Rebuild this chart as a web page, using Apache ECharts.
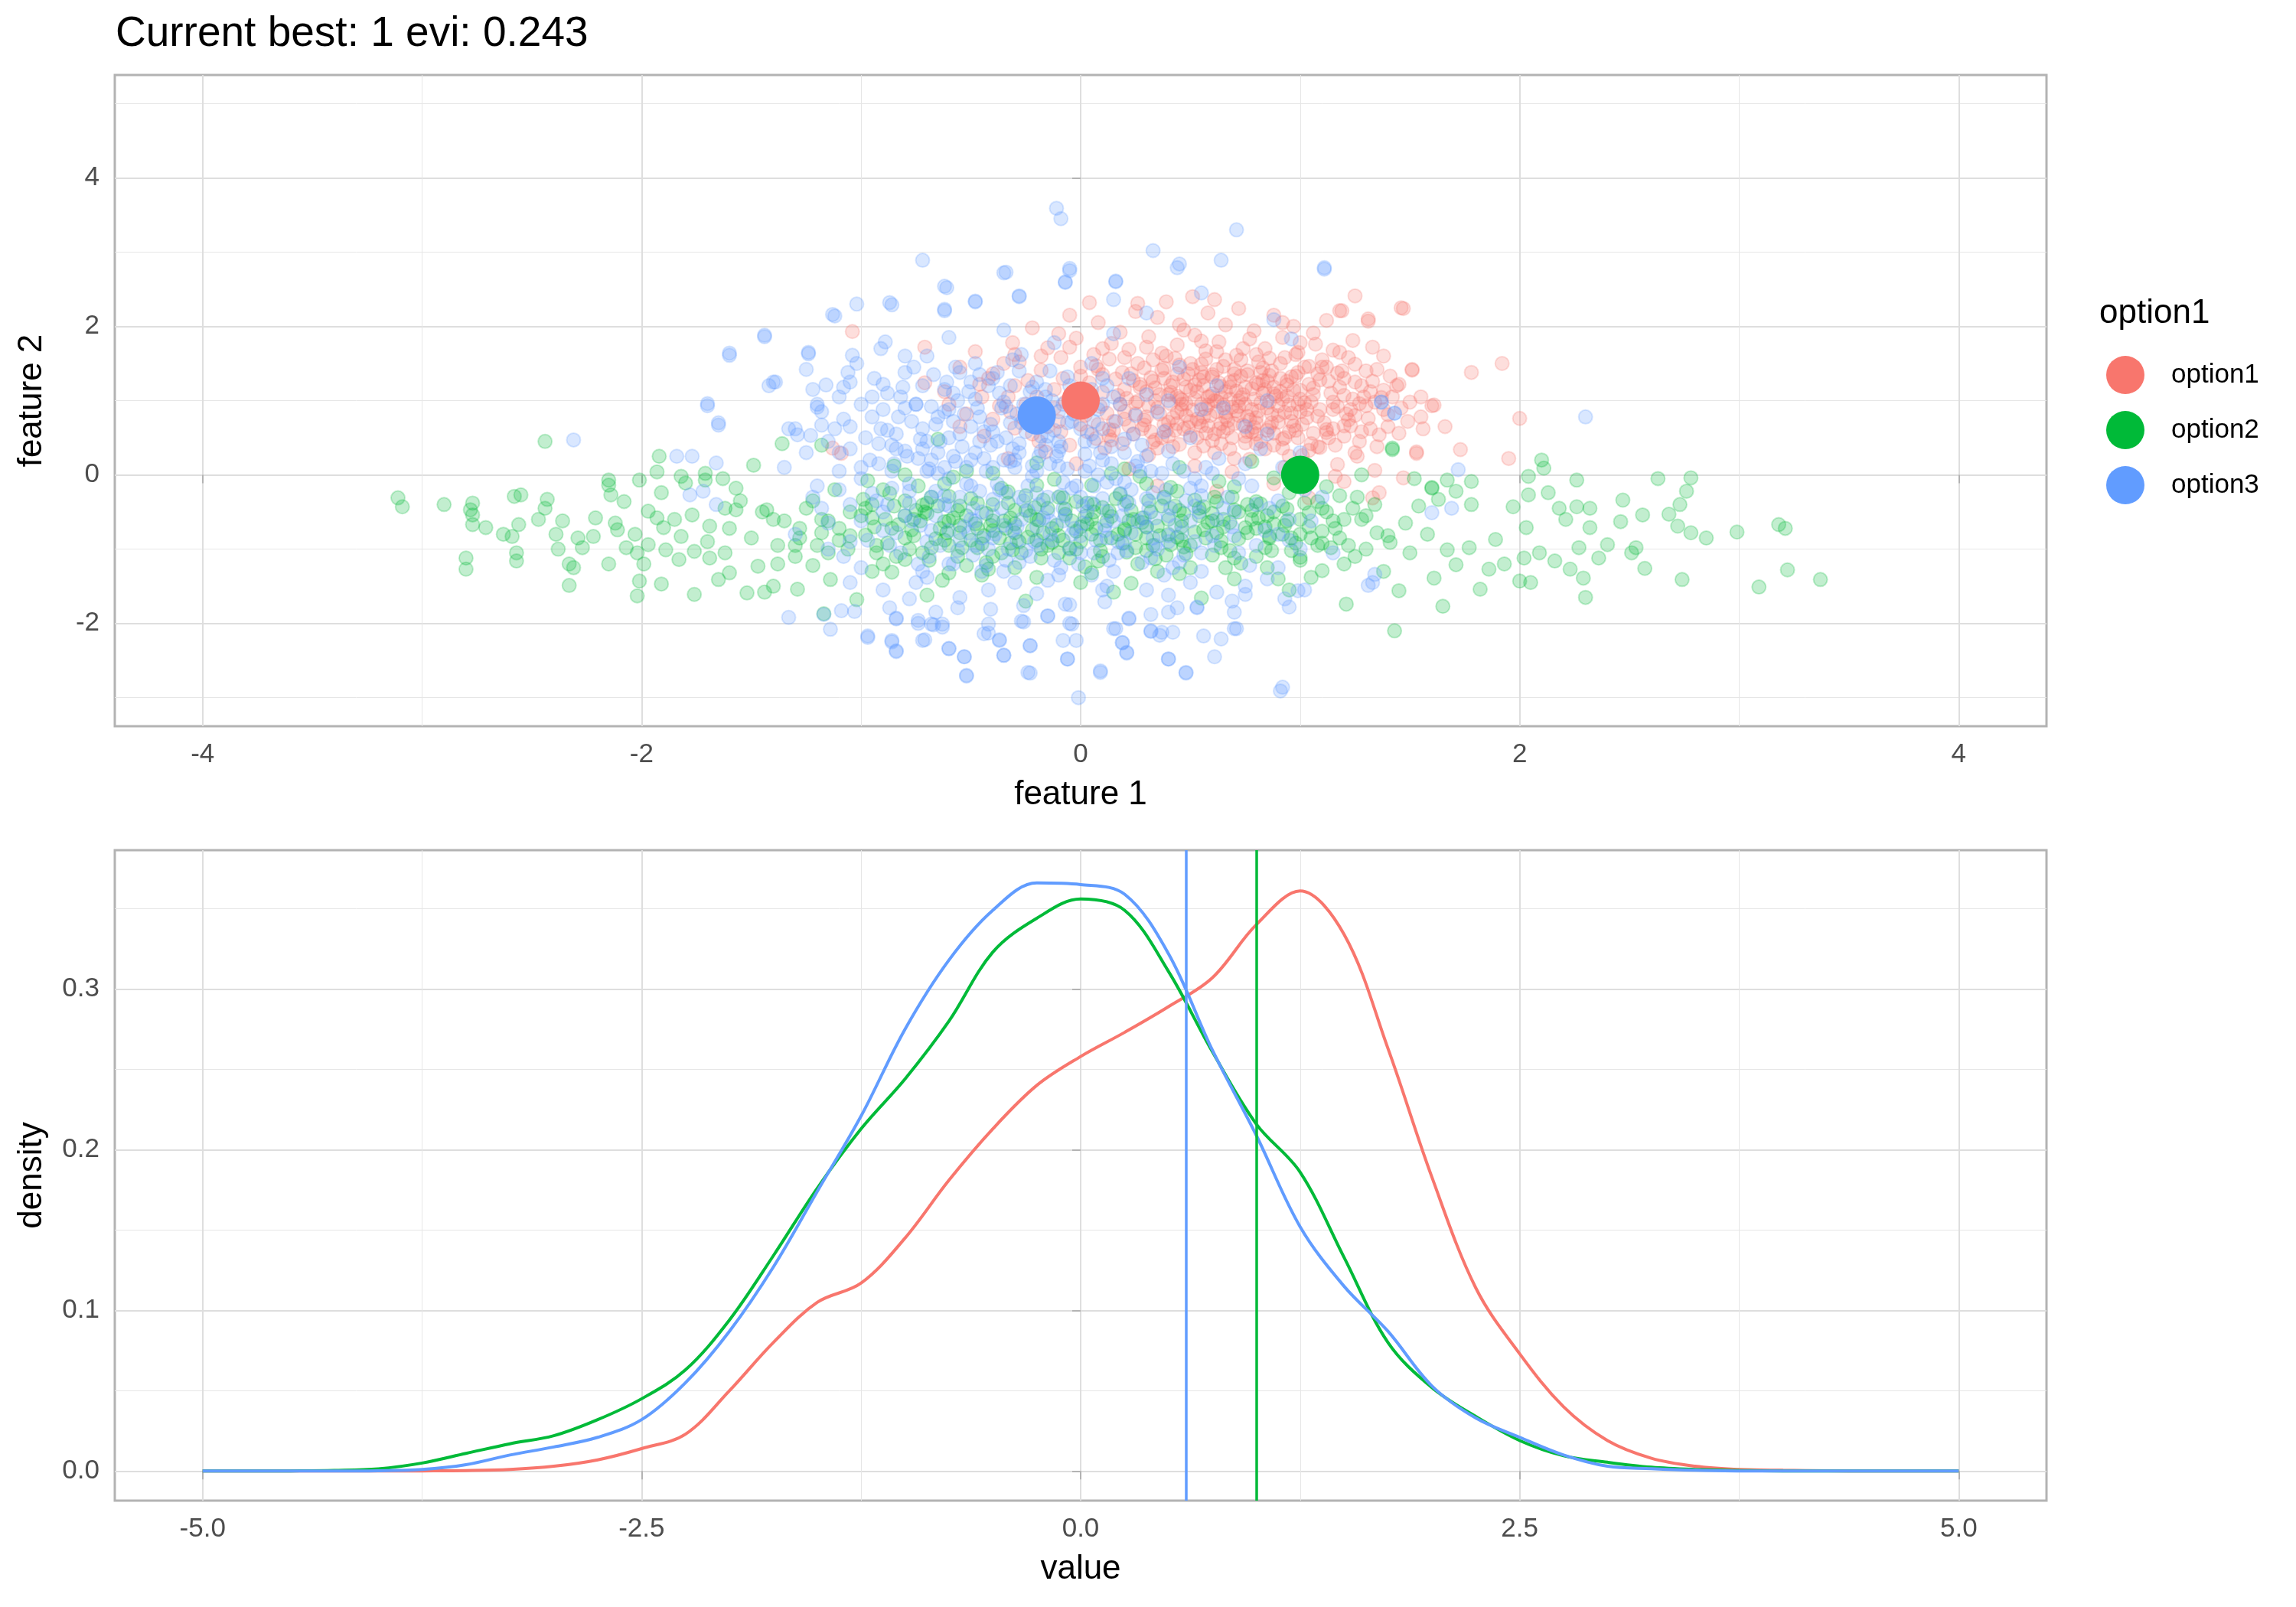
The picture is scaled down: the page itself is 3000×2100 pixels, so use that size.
<!DOCTYPE html>
<html>
<head>
<meta charset="utf-8">
<title>Current best</title>
<script src="https://cdn.jsdelivr.net/npm/echarts@6/dist/echarts.min.js"></script>
<style>
  html, body { margin: 0; padding: 0; background: #fff; }
  #main { width: 3000px; height: 2100px; }
</style>
</head>
<body>
<div id="main"></div>
<script>
// points: [feature 1, feature 2]
var pts1 = [
  [1.92,1.50],[2.00,0.76],[1.78,1.38],[1.51,1.42],[1.46,2.25],[1.25,2.41],[1.95,0.22],[1.73,0.34],[1.53,0.31],
  [1.55,1.05],[1.61,0.94],[1.66,0.65],[1.47,-0.04],[1.31,2.10],[1.18,2.21],[0.61,2.36],[0.39,2.33],[0.26,2.31],
  [0.04,2.32],[1.35,1.42],[1.38,1.14],[1.32,0.62],[1.45,0.56],[-1.04,1.93],[-0.71,1.72],[-0.71,1.24],[-1.09,0.29],
  [-1.13,0.36],[0.51,2.40],[1.47,2.24],[1.19,2.21],[1.60,0.93],[1.56,0.62],[1.53,0.29],[1.51,1.41],[1.31,2.07],
  [-0.22,1.98],[0.08,2.05],[0.18,1.92],[0.35,2.12],[0.47,1.95],[0.58,2.18],[0.66,2.02],[0.79,1.94],[0.88,2.15],
  [0.97,2.0],[1.06,1.91],[1.12,2.08],[0.25,2.2],[-0.05,2.15],[0.72,2.24],
  [-0.48,1.66],[-0.31,1.78],[-0.15,1.71],[-0.02,1.84],[0.06,1.62],[0.14,1.77],[0.22,1.69],[0.31,1.86],[0.37,1.64],
  [0.44,1.75],[0.52,1.88],[0.57,1.67],[0.63,1.79],[0.71,1.61],[0.77,1.83],[0.84,1.7],[0.92,1.85],[0.99,1.65],
  [1.07,1.76],[1.15,1.68],[1.24,1.81],[1.33,1.72],
  [-0.55,1.45],[-0.4,1.36],[-0.28,1.52],[-0.18,1.41],[-0.09,1.58],[0.0,1.33],[0.07,1.47],[0.13,1.56],[0.19,1.38],
  [0.26,1.5],[0.32,1.31],[0.38,1.44],[0.43,1.57],[0.49,1.36],[0.55,1.49],[0.6,1.32],[0.66,1.55],[0.7,1.42],
  [0.76,1.35],[0.81,1.52],[0.87,1.4],[0.93,1.58],[0.98,1.33],[1.04,1.46],[1.1,1.55],[1.17,1.37],[1.25,1.49],[1.41,1.33],
  [-0.62,1.12],[-0.46,1.22],[-0.33,1.05],[-0.24,1.27],[-0.12,1.15],[-0.04,1.02],[0.04,1.24],[0.1,1.11],[0.16,1.29],
  [0.21,1.03],[0.27,1.18],[0.33,1.26],[0.36,1.08],[0.41,1.2],[0.46,1.01],[0.5,1.14],[0.54,1.28],[0.59,1.06],
  [0.64,1.19],[0.68,1.25],[0.73,1.04],[0.78,1.16],[0.83,1.27],[0.88,1.09],[0.94,1.21],[1.0,1.02],[1.06,1.17],
  [1.13,1.26],[1.2,1.07],[1.28,1.2],[1.37,1.04],[1.45,1.22],
  [-0.52,0.82],[-0.37,0.93],[-0.26,0.76],[-0.16,0.88],[-0.07,0.98],[0.02,0.8],[0.09,0.92],[0.15,0.72],[0.2,0.85],
  [0.25,0.97],[0.3,0.78],[0.35,0.9],[0.4,0.71],[0.44,0.84],[0.48,0.96],[0.53,0.75],[0.57,0.89],[0.62,0.99],
  [0.67,0.73],[0.71,0.86],[0.75,0.95],[0.8,0.77],[0.85,0.9],[0.9,0.71],[0.96,0.83],[1.02,0.97],[1.08,0.79],
  [1.15,0.88],[1.22,0.74],[1.3,0.93],[1.4,0.81],[1.49,0.72],
  [-0.44,0.52],[-0.3,0.63],[-0.19,0.45],[-0.09,0.58],[0.0,0.68],[0.07,0.49],[0.13,0.61],[0.19,0.42],[0.24,0.55],
  [0.29,0.67],[0.34,0.47],[0.39,0.6],[0.45,0.41],[0.5,0.53],[0.55,0.66],[0.6,0.46],[0.65,0.58],[0.7,0.69],
  [0.75,0.43],[0.8,0.55],[0.86,0.64],[0.92,0.48],[0.98,0.6],[1.05,0.42],[1.12,0.57],[1.2,0.66],[1.27,0.45],[1.36,0.54],
  [-0.33,0.22],[-0.16,0.31],[-0.02,0.15],[0.11,0.36],[0.22,0.08],[0.31,0.27],[0.42,0.38],[0.52,0.12],[0.61,0.3],
  [0.69,0.04],[0.77,0.21],[0.84,0.35],[0.93,0.1],[1.01,0.26],[1.09,0.37],[1.17,0.14],[1.25,0.3],[1.34,0.06],
  [0.35,-0.15],[0.62,-0.22],[0.88,-0.12],[1.04,-0.31],[1.16,-0.02],[1.2,-0.09],[1.33,-0.31],[1.36,-0.24],[1.26,0.25],
  [0.03,0.58],[0.12,0.83],[0.17,1.07],[0.23,1.36],[0.28,0.62],[0.31,0.93],[0.34,1.17],[0.37,1.41],[0.4,0.52],[0.42,0.77],
  [0.45,1.03],[0.47,1.29],[0.49,0.64],[0.51,0.87],[0.53,1.12],[0.55,1.38],[0.57,0.56],[0.59,0.8],[0.61,1.0],[0.63,1.24],
  [0.65,1.46],[0.67,0.63],[0.69,0.91],[0.71,1.13],[0.73,1.33],[0.75,0.52],[0.77,0.74],[0.79,1.02],[0.81,1.22],[0.83,1.44],
  [0.85,0.6],[0.87,0.82],[0.89,1.06],[0.91,1.3],[0.93,0.5],[0.95,0.94],[0.97,1.14],[0.99,1.38],[1.01,0.68],[1.03,0.88],
  [1.06,1.08],[1.09,1.28],[1.12,0.61],[1.15,0.98],[1.18,1.18],[1.21,0.82],[1.24,1.02],[1.28,0.58],[1.32,1.12],[1.38,0.88],
  [0.08,1.42],[0.14,0.47],[0.2,1.58],[0.26,0.99],[0.33,0.44],[0.39,1.6],[0.44,0.69],[0.5,1.5],[0.56,0.39],[0.62,1.66],
  [0.68,0.35],[0.74,1.7],[0.8,0.42],[0.86,1.57],[0.92,0.36],[0.98,1.62],[1.04,0.33],[1.1,1.45],[1.16,0.4],[1.22,1.58],
  [0.36,0.82],[0.46,0.95],[0.54,0.71],[0.6,1.09],[0.66,0.84],[0.72,1.0],[0.78,0.88],[0.84,1.15],[0.9,0.93],[0.96,0.72],
  [0.41,1.11],[0.52,1.21],[0.58,0.94],[0.64,0.69],[0.7,1.27],[0.76,0.79],[0.82,0.97],[0.88,1.18],[0.94,1.06],[1.0,0.85],
  [-0.1,0.72],[-0.2,1.05],[-0.3,1.2],[-0.4,0.75],[0.0,1.45],[-0.05,0.4],[1.3,1.4],[1.42,1.05],[1.46,0.9],[1.35,0.38],
  [0.22,0.66],[0.27,1.22],[0.32,0.58],[0.34,1.0],[0.38,1.3],[0.43,0.6],[0.46,0.88],[0.48,1.18],[0.51,1.42],[0.53,0.5],
  [0.56,0.78],[0.58,1.05],[0.6,1.35],[0.63,0.62],[0.65,0.94],[0.66,1.12],[0.69,0.5],[0.72,0.8],[0.74,1.08],[0.76,1.4],
  [0.79,0.64],[0.81,0.86],[0.83,1.1],[0.86,1.34],[0.88,0.56],[0.9,0.8],[0.92,1.02],[0.94,1.26],[0.97,0.66],[1.0,1.14],
  [1.03,0.77],[1.05,0.98],[1.08,1.36],[1.11,0.7],[1.14,1.1],[1.17,0.92],[1.2,1.3],[1.23,0.66],[1.27,0.96],[1.31,0.76],
  [0.25,0.82],[0.29,1.44],[0.41,0.96],[0.45,1.48],[0.57,1.56],[0.64,0.42],[0.73,1.55],[0.82,0.45],[0.91,1.5],[0.99,0.5],
  [0.05,0.95],[0.1,1.35],[0.15,0.6],[0.2,1.15],[-0.08,1.3],[-0.15,0.65],[-0.25,0.95],[-0.35,1.5],[-0.45,1.05],[-0.55,0.65],
  [0.62,0.85],[0.68,1.02],[0.74,0.67],[0.8,1.24],[0.86,0.98],[0.5,0.72],[0.56,1.2],[0.44,1.06],[0.38,0.68],[0.96,1.32],
  [1.12,1.45],[1.25,1.25],[1.34,0.98],[1.4,0.65],[1.44,1.2],[1.5,0.98],[1.55,0.78],[1.2,0.52],[1.08,0.38],[0.95,0.25],
  [0.3,1.72],[0.55,1.8],[0.8,1.62],[1.0,1.78],[1.18,1.65],[0.1,1.7],[-0.1,1.9],[0.45,2.02],[0.92,2.05],[1.38,1.6],
  [0.13,0.52],[0.18,0.95],[0.24,1.27],[0.29,0.74],[0.33,1.55],[0.37,0.5],[0.42,1.25],[0.47,0.62],[0.52,1.02],[0.56,1.32],
  [0.61,0.55],[0.66,0.78],[0.7,1.36],[0.75,1.18],[0.78,0.58],[0.82,1.38],[0.87,0.7],[0.91,1.12],[0.95,0.58],[0.99,0.95],
  [1.04,1.22],[1.09,0.88],[1.13,0.5],[1.19,1.4],[1.23,0.88],[1.29,1.05],[0.58,0.66],[0.64,1.04],[0.72,0.92],[0.8,0.7],
  [0.48,0.8],[0.4,1.08],[0.3,1.12],[0.55,0.95],[0.68,1.18],[0.85,1.26],[0.93,0.84],[1.02,1.45],[1.15,0.62],[0.2,0.75],
  [0.76,0.58],[0.62,1.42],[0.44,1.36],[0.88,0.4],[1.06,0.56],[0.35,0.36],[0.52,0.3],[0.7,0.22],[1.25,0.8],[1.33,1.26],
  [-0.12,0.9],[-0.22,0.55],[-0.32,0.85],[-0.42,1.3],[-0.18,1.6],[0.02,1.15],[0.08,0.68],[-0.05,1.72],[-0.3,1.62],[-0.6,0.95]
];
var pts2 = [
  [-3.11,-0.31],[-3.09,-0.43],[-2.90,-0.40],[-2.78,-0.47],[-2.77,-0.38],[-2.77,-0.54],[-2.77,-0.67],[-2.71,-0.71],
  [-2.80,-1.12],[-2.80,-1.27],[-2.63,-0.80],[-2.59,-0.83],[-2.58,-0.29],[-2.55,-0.27],[-2.56,-0.67],[-2.57,-1.05],
  [-2.57,-1.16],[-2.44,0.45],[-2.43,-0.33],[-2.44,-0.45],[-2.47,-0.60],[-2.39,-0.80],[-2.38,-1.00],[-2.36,-0.62],
  [-2.33,-1.20],[-2.31,-1.25],[-2.33,-1.49],[-2.29,-0.85],[-2.27,-0.98],[-2.22,-0.83],[-2.21,-0.58],[-2.15,-0.07],
  [-2.15,-0.14],[-2.14,-0.27],[-2.15,-1.20],[-2.12,-0.65],[-2.11,-0.74],[-2.08,-0.36],[-2.07,-0.98],[-2.02,-1.63],
  [-2.01,-0.07],[-2.01,-1.43],[-2.02,-1.05],[-2.03,-0.80],[-1.99,-1.20],[-1.97,-0.94],[-1.97,-0.49],[-1.93,-0.58],
  [-1.93,0.04],[-1.92,0.25],[-1.91,-0.24],[-1.91,-1.47],[-1.90,-0.71],[-1.89,-1.01],[-1.83,-1.14],[-1.82,-0.02],
  [-1.80,-0.11],[-1.82,-0.83],[-1.77,-0.54],[-1.76,-1.61],[-1.76,-1.03],[-1.71,0.02],[-1.71,-0.07],[-1.69,-0.69],
  [-1.69,-1.12],[-1.65,-1.41],[-1.63,-0.05],[-1.60,-1.32],[-1.57,-0.18],[-1.57,-0.47],[-1.52,-1.59],[-1.49,0.13],
  [-1.47,-1.23],[-1.43,-0.47],[-1.44,-1.58],[-1.40,-1.50],[-1.36,0.42],[-1.29,-1.54],[-1.18,0.40],[-1.17,-1.87],
  [-1.02,-1.68],[-1.14,-1.41],[-0.65,0.48],[1.42,0.34],[1.60,-0.17],
  [-1.35,-0.62],[-1.28,-0.85],[-1.22,-0.35],[-1.15,-1.05],[-1.1,-0.72],[-1.05,-0.5],[-1.3,-1.1],[-1.2,-0.95],
  [3.37,-1.41],[3.22,-1.28],[3.09,-1.51],[3.18,-0.67],[3.21,-0.72],[2.99,-0.77],[2.85,-0.85],[2.78,-0.04],
  [2.76,-0.22],[2.73,-0.40],[2.63,-0.05],[2.68,-0.53],[2.72,-0.69],[2.78,-0.78],[2.74,-1.41],[2.56,-0.54],
  [2.57,-1.26],[2.51,-1.05],[2.53,-0.98],[2.47,-0.34],[2.46,-0.63],[2.40,-0.94],[2.36,-1.12],[2.32,-0.45],
  [2.32,-0.71],[2.26,-0.07],[2.26,-0.43],[2.27,-0.98],[2.29,-1.39],[2.30,-1.65],[2.23,-1.27],[2.16,-1.16],
  [2.21,-0.60],[2.18,-0.45],[2.13,-0.24],[2.11,0.09],[2.10,0.20],[2.04,-0.02],[2.04,-0.27],[2.09,-1.05],
  [2.05,-1.45],[2.00,-1.43],[2.02,-1.12],[1.97,-0.43],[1.93,-1.20],[2.03,-0.71],[1.89,-0.87],[1.86,-1.27],
  [1.82,-1.54],[1.78,-0.09],[1.78,-0.40],[1.77,-0.98],[1.71,-0.22],[1.71,-1.21],[1.65,-1.77],[1.67,-0.07],
  [1.63,-0.33],[1.60,-0.18],[1.67,-1.01],[1.61,-1.39],[1.52,-0.05],[1.54,-0.42],[1.45,-1.56],[1.43,-2.10],
  [1.21,-1.74],[1.41,-0.91],[1.28,0.0],[1.42,0.36],
  [1.3,-0.55],[1.35,-0.78],[1.25,-1.1],[1.48,-0.65],[1.5,-1.05],[1.58,-0.8],[1.38,-1.3],[1.26,-0.3],
  [-0.85,0.12],[-0.52,0.05],[-0.2,0.16],[0.14,0.02],[0.45,0.1],[0.78,0.18],[1.05,0.07],
  [-0.97,-0.08],[-0.74,-0.15],[-0.58,-0.03],[-0.36,-0.18],[-0.12,-0.06],[0.05,-0.14],[0.27,-0.02],[0.41,-0.17],
  [0.63,-0.09],[0.88,-0.04],[1.12,-0.16],
  [-0.99,-0.33],[-0.87,-0.25],[-0.72,-0.41],[-0.6,-0.29],[-0.47,-0.38],[-0.33,-0.23],[-0.21,-0.44],[-0.08,-0.31],
  [0.06,-0.4],[0.18,-0.26],[0.31,-0.35],[0.44,-0.22],[0.56,-0.43],[0.69,-0.3],[0.82,-0.39],[0.95,-0.24],[1.08,-0.36],[1.18,-0.28],
  [-0.95,-0.58],[-0.83,-0.67],[-0.71,-0.5],[-0.62,-0.63],[-0.52,-0.55],[-0.41,-0.68],[-0.3,-0.48],[-0.19,-0.61],
  [-0.07,-0.53],[0.03,-0.66],[0.13,-0.49],[0.24,-0.6],[0.35,-0.69],[0.47,-0.52],[0.58,-0.64],[0.7,-0.47],
  [0.81,-0.58],[0.93,-0.68],[1.04,-0.51],[1.15,-0.62],
  [-0.98,-0.81],[-0.88,-0.92],[-0.77,-0.74],[-0.66,-0.86],[-0.55,-0.78],[-0.45,-0.93],[-0.34,-0.72],[-0.24,-0.84],
  [-0.13,-0.91],[-0.02,-0.76],[0.09,-0.88],[0.2,-0.73],[0.3,-0.85],[0.41,-0.94],[0.52,-0.77],[0.64,-0.89],
  [0.75,-0.71],[0.86,-0.83],[0.98,-0.92],[1.1,-0.76],
  [-0.93,-1.05],[-0.8,-1.14],[-0.68,-0.98],[-0.56,-1.1],[-0.43,-1.18],[-0.31,-1.01],[-0.18,-1.12],[-0.05,-0.99],
  [0.08,-1.16],[0.21,-1.04],[0.34,-1.13],[0.47,-0.97],[0.6,-1.08],[0.73,-1.19],[0.87,-1.02],[1.0,-1.11],[1.14,-0.98],
  [-0.86,-1.31],[-0.63,-1.42],[-0.42,-1.27],[-0.2,-1.38],[0.02,-1.24],[0.23,-1.46],[0.45,-1.33],[0.66,-1.25],
  [0.9,-1.4],[1.1,-1.29],
  [-0.7,-1.62],[-0.25,-1.7],[0.15,-1.58],[0.55,-1.66],[0.95,-1.55],
  [-1.25,-0.45],[-1.18,-0.78],[-1.12,-0.2],[-1.06,-1.0],[-1.0,-0.55],[-0.94,-0.7],[-0.9,-1.2],[-0.85,-0.42],[-0.8,-0.85],[-0.76,-0.6],
  [-0.72,-1.05],[-0.68,-0.3],[-0.64,-0.72],[-0.6,-0.95],[-0.56,-0.48],[-0.52,-1.22],[-0.48,-0.66],[-0.44,-0.82],[-0.4,-0.4],[-0.36,-1.05],
  [-0.32,-0.58],[-0.28,-0.9],[-0.25,-0.28],[-0.22,-0.74],[-0.18,-1.0],[-0.15,-0.45],[-0.11,-0.68],[-0.08,-0.88],[-0.05,-1.12],[-0.02,-0.36],
  [0.02,-0.56],[0.05,-0.8],[0.09,-1.02],[0.12,-0.62],[0.16,-0.32],[0.19,-0.92],[0.23,-0.48],[0.26,-1.2],[0.3,-0.7],[0.33,-0.95],
  [0.37,-0.42],[0.4,-0.6],[0.44,-0.84],[0.48,-1.06],[0.52,-0.34],[0.56,-0.74],[0.6,-0.52],[0.64,-0.98],[0.68,-0.64],[0.72,-0.86],
  [0.76,-0.4],[0.8,-1.1],[0.84,-0.7],[0.88,-0.5],[0.92,-0.8],[0.96,-1.02],[1.0,-0.6],[1.05,-0.85],[1.1,-0.45],[1.16,-0.72],
  [1.22,-0.95],[1.28,-0.6],[1.34,-0.4],[1.4,-0.82],[-1.3,-0.95],[-1.22,-1.22],[-1.4,-0.6],[-1.5,-0.85],[-1.55,-0.35],[-1.62,-1.05],
  [-0.7,-0.52],[-0.5,-0.88],[-0.3,-0.66],[-0.1,-0.82],[0.1,-0.44],[0.28,-0.58],[0.46,-0.7],[0.62,-0.36],[0.78,-0.6],[0.94,-0.46],
  [-0.62,-0.12],[-0.2,-0.14],[0.3,-0.12],[0.7,-0.16],[-0.45,-1.35],[0.05,-1.32],[0.5,-1.25],[0.85,-1.25],[-0.9,-0.2],[1.2,-1.2],
  [-0.98,-0.45],[-0.93,-0.95],[-0.89,-0.6],[-0.84,-1.1],[-0.8,-0.35],[-0.76,-0.82],[-0.73,-0.62],[-0.69,-1.15],[-0.65,-0.42],[-0.61,-0.78],
  [-0.58,-0.58],[-0.54,-0.98],[-0.5,-0.32],[-0.47,-0.72],[-0.43,-0.52],[-0.4,-1.1],[-0.37,-0.85],[-0.33,-0.38],[-0.3,-0.78],[-0.27,-1.05],
  [-0.23,-0.55],[-0.2,-0.88],[-0.17,-0.34],[-0.13,-0.72],[-0.1,-1.05],[-0.07,-0.46],[-0.04,-0.62],[0.0,-0.9],[0.03,-0.38],[0.07,-0.72],
  [0.1,-1.1],[0.14,-0.56],[0.17,-0.8],[0.21,-0.36],[0.25,-0.98],[0.28,-0.64],[0.32,-0.5],[0.36,-0.82],[0.39,-1.08],[0.43,-0.42],
  [0.46,-0.62],[0.5,-0.95],[0.54,-0.55],[0.57,-0.85],[0.61,-0.3],[0.65,-0.7],[0.68,-1.02],[0.72,-0.5],[0.76,-0.78],[0.8,-0.36],
  [0.84,-0.98],[0.88,-0.66],[0.92,-0.42],[0.96,-0.85],[1.0,-1.15],[1.04,-0.7],[1.08,-0.95],[1.12,-0.5],[1.18,-0.85],[1.24,-0.45],
  [-1.1,-0.88],[-1.18,-0.6],[-1.28,-0.72],[-1.38,-0.95],[-1.45,-0.5],[-1.6,-0.72],[-1.7,-0.9],[-1.85,-0.6],[-1.62,-0.45],[-1.38,-1.2],
  [-0.95,-1.3],[-0.6,-1.32],[-0.3,-1.25],[0.0,-1.45],[0.35,-1.3],[0.7,-1.4],[1.05,-1.38],[-0.8,0.0],[-0.4,0.02],[0.2,0.08],
  [-0.35,-0.62],[-0.15,-0.95],[0.05,-0.6],[0.25,-0.8],[0.45,-0.48],[0.65,-0.6],[-0.55,-0.68],[-0.75,-0.48],[0.85,-0.55],[1.3,-1.0],
  [-1.15,-0.62],[-1.05,-0.82],[-0.95,-0.4],[-0.86,-0.72],[-0.78,-1.0],[-0.7,-0.38],[-0.62,-0.88],[-0.55,-0.42],[-0.47,-0.98],[-0.4,-0.62],
  [-0.32,-0.92],[-0.25,-0.48],[-0.17,-0.78],[-0.1,-0.3],[-0.02,-1.0],[0.06,-0.5],[0.14,-0.85],[0.22,-0.62],[0.3,-1.02],[0.38,-0.3],
  [0.46,-0.88],[0.54,-0.45],[0.62,-0.78],[0.7,-1.12],[0.78,-0.48],[0.86,-0.85],[0.94,-0.62],[1.02,-0.38],[1.1,-0.92],[1.2,-0.6],
  [-0.8,-0.55],[-0.6,-0.62],[-0.4,-0.75],[-0.2,-0.6],[0.0,-0.7],[0.2,-0.75],[0.4,-0.8],[0.6,-0.62],[0.8,-0.72],[1.0,-0.8]
];
var pts3 = [
  [-2.31,0.47],[-1.70,0.96],[-1.65,0.70],[-1.60,1.64],[-1.44,1.88],[-1.42,1.20],[-1.39,1.25],[-1.24,1.65],
  [-1.13,2.16],[-1.02,2.30],[-0.87,2.32],[-0.62,2.54],[-0.62,2.23],[-0.48,2.34],[-0.35,2.72],[-0.28,2.41],
  [-0.07,2.59],[-0.05,2.75],[-1.16,1.21],[-1.20,0.91],[-1.33,0.62],[-1.29,0.54],[-1.23,0.53],[-1.18,0.67],
  [-1.08,1.18],[-1.06,1.38],[-1.04,1.61],[-0.91,1.70],[-0.89,1.79],[-1.84,0.25],[-1.77,0.25],[-1.66,0.16],
  [-1.78,-0.27],[-1.72,-0.22],[-1.66,-0.40],
  [-1.33,-1.92],[-1.14,-2.08],[-1.09,-1.83],[-0.97,-2.17],[-0.86,-2.23],[-0.84,-2.37],[-0.84,-1.94],[-0.72,-2.23],
  [-0.74,-1.96],[-0.68,-2.01],[-0.63,-2.01],[-0.60,-2.34],[-0.53,-2.45],[-0.52,-2.70],[-0.42,-2.01],[-0.44,-2.14],
  [-0.37,-2.23],[-0.35,-2.43],[-0.27,-1.97],[-0.26,-1.76],[-0.24,-2.66],[-0.23,-2.30],[-0.15,-1.90],[-0.08,-2.23],
  [-0.06,-2.48],[-0.04,-2.01],[-0.02,-2.23],[0.09,-2.64],[-0.87,-1.79],[-0.78,-1.67],[-0.66,-1.85],
  [2.30,0.78],[0.16,2.61],[1.11,2.77],[0.44,2.79],[0.92,-2.86],[0.48,-2.66],[0.40,-2.48],[0.61,-2.45],
  [0.21,-2.39],[0.19,-2.26],[0.56,-2.17],[0.37,-2.12],[0.42,-2.12],[0.71,-2.07],[0.16,-2.07],[0.32,-2.11],
  [0.22,-1.94],[0.40,-1.85],[0.53,-1.78],[0.69,-1.70],[0.75,-1.61],[0.95,-1.78],[0.99,-1.56],[1.33,-1.45],
  [1.31,-1.49],[1.60,-0.51],[1.69,-0.45],[1.72,0.07],[1.43,0.83],[1.37,0.98],
  [-0.11,3.59],[-0.09,3.45],[0.71,3.30],[0.33,3.02],[0.45,2.84],[0.64,2.89],[1.11,2.79],[-0.05,2.78],
  [-0.07,2.60],[0.16,2.60],[-0.34,2.73],[-0.72,2.89],[-0.61,2.52],[-0.48,2.33],[-0.28,2.40],[-0.62,2.21],
  [-0.86,2.29],[-1.12,2.14],[-1.44,1.86],[-1.60,1.61],[-1.24,1.63],[-1.40,1.25],[-1.70,0.93],[-1.65,0.67],
  [0.55,2.45],[0.15,2.36],[0.30,2.18],[0.88,2.09],[0.96,1.83],[1.37,0.98],[1.43,0.83],
  [-0.01,-3.0],[0.91,-2.91],[-0.52,-2.71],[-0.23,-2.67],[0.09,-2.66],[0.48,-2.67],[-0.06,-2.48],[-0.53,-2.45],
  [-0.35,-2.43],[-0.23,-2.30],[-0.60,-2.34],[-0.84,-2.38],[-0.86,-2.25],[-0.97,-2.19],[-0.71,-2.22],[-0.37,-2.22],
  [0.19,-2.26],[0.21,-2.40],[0.40,-2.48],[0.64,-2.21],[0.70,-2.07],[0.32,-2.10],[0.36,-2.16],[0.15,-2.07],
  [-0.05,-2.0],[-0.42,-2.13],[-0.63,-2.05],[-0.67,-2.02],[-0.74,-2.0],[-0.84,-1.93],[-1.03,-1.84],[-1.17,-1.88],
  [-0.56,-1.79],[-0.41,-1.81],[-0.26,-1.98],[-0.15,-1.90],[-0.07,-1.74],[0.11,-1.71],[0.22,-1.93],[0.32,-1.88],
  [0.44,-1.79],[0.53,-1.79],[0.93,-1.67],[1.02,-1.55],[1.34,-1.34],
  [-1.25,1.42],[-1.1,1.05],[-1.02,1.5],[-0.95,0.78],[-0.9,1.22],[-0.84,0.55],[-0.8,1.38],[-0.75,0.95],[-0.7,1.6],
  [-0.66,0.68],[-0.62,1.15],[-0.57,1.45],[-0.53,0.82],[-0.48,1.02],[-0.44,0.58],[-0.4,1.3],[-0.36,0.9],[-0.31,1.55],
  [-0.27,0.7],[-0.23,1.12],[-0.18,0.52],[-0.14,1.4],[-0.1,0.85],[-0.05,1.2],[0.0,0.62],[0.05,1.5],[0.1,0.95],
  [0.16,0.72],[0.22,1.3],[0.3,1.08],[0.38,0.58],[0.45,1.45],[0.55,0.88],[0.62,1.2],[0.75,0.65],[0.85,1.0],
  [-1.3,0.62],[-1.18,0.85],[-1.05,0.35],[-0.6,1.85],[-0.35,1.95],[-0.12,1.78],[0.15,1.9],
  [-1.35,0.1],[-1.2,-0.15],[-1.1,0.3],[-1.0,-0.05],[-0.92,0.42],[-0.85,0.15],[-0.78,-0.22],[-0.72,0.35],[-0.65,0.02],
  [-0.58,0.25],[-0.52,-0.12],[-0.46,0.45],[-0.4,0.1],[-0.34,-0.25],[-0.28,0.3],[-0.22,-0.02],[-0.16,0.4],[-0.1,0.12],
  [-0.04,-0.18],[0.02,0.28],[0.08,0.0],[0.14,0.38],[0.2,-0.1],[0.26,0.18],[0.33,-0.24],[0.4,0.32],[0.47,0.05],
  [0.55,-0.15],[0.63,0.22],[0.72,-0.05],[0.82,0.35],[0.92,0.1],[1.02,-0.2],
  [-1.3,-0.8],[-1.18,-0.45],[-1.08,-1.1],[-1.0,-0.62],[-0.93,-0.35],[-0.87,-0.95],[-0.8,-0.55],[-0.74,-1.2],
  [-0.68,-0.75],[-0.62,-0.4],[-0.56,-1.02],[-0.5,-0.6],[-0.45,-0.85],[-0.4,-0.33],[-0.34,-1.15],[-0.29,-0.7],
  [-0.24,-0.48],[-0.19,-0.95],[-0.14,-0.62],[-0.09,-1.25],[-0.04,-0.8],[0.01,-0.42],[0.06,-1.05],[0.11,-0.68],
  [0.17,-0.9],[0.22,-0.38],[0.28,-1.18],[0.34,-0.58],[0.4,-0.82],[0.47,-1.08],[0.54,-0.5],[0.61,-0.95],
  [0.69,-0.7],[0.77,-1.22],[0.86,-0.45],[0.95,-0.88],[1.05,-0.62],[1.15,-1.05],[-0.66,-0.22],[-0.15,-0.3],[0.3,-0.32],
  [-1.05,-1.45],[-0.7,-1.38],[-0.42,-1.55],[-0.15,-1.42],[0.12,-1.5],[0.38,-1.35],[0.62,-1.58],[0.85,-1.4],
  [-0.95,-0.25],[-0.9,-0.75],[-0.86,0.05],[-0.82,-1.05],[-0.78,-0.38],[-0.74,0.22],[-0.7,-0.9],[-0.66,-0.55],[-0.62,0.1],[-0.58,-1.2],
  [-0.55,-0.3],[-0.51,-0.78],[-0.48,0.3],[-0.45,-0.5],[-0.42,-1.0],[-0.38,-0.12],[-0.35,-0.68],[-0.32,0.18],[-0.29,-0.88],[-0.26,-0.35],
  [-0.23,-1.1],[-0.2,0.05],[-0.17,-0.58],[-0.14,-0.8],[-0.11,0.25],[-0.08,-0.45],[-0.05,-1.0],[-0.02,-0.15],[0.01,-0.65],[0.04,0.12],
  [0.07,-0.88],[0.1,-0.32],[0.13,-1.15],[0.16,-0.05],[0.19,-0.55],[0.23,-0.78],[0.27,0.05],[0.31,-0.45],[0.35,-1.0],[0.39,-0.2],
  [0.43,-0.68],[0.48,-0.35],[0.52,-0.9],[0.57,0.1],[0.62,-0.6],[0.67,-0.3],[0.72,-1.05],[0.78,-0.15],[0.84,-0.75],[0.9,-0.35],
  [-0.88,0.6],[-0.8,0.9],[-0.72,1.2],[-0.64,0.45],[-0.56,1.0],[-0.5,0.65],[-0.42,1.2],[-0.34,0.5],[-0.26,0.95],[-0.2,1.25],
  [-0.12,0.6],[-0.04,0.95],[0.06,0.45],[0.12,1.2],[0.24,0.55],[0.35,0.85],[-1.15,-0.65],[-1.05,-0.9],[-1.1,0.05],[-1.22,-0.3],
  [-0.6,-0.75],[-0.4,-0.55],[-0.2,-0.7],[0.0,-0.3],[0.2,-0.4],[0.4,-0.9],[-0.5,-0.15],[-0.3,0.1],[0.1,0.2],[0.3,-0.7],
  [-0.75,-1.45],[-0.45,-1.3],[-0.2,-1.6],[0.05,-1.35],[0.3,-1.55],[0.55,-1.3],[0.75,-1.5],[-1.0,-1.25],[1.0,-1.0],[1.1,-0.3],
  [-0.78,-0.12],[-0.73,-0.68],[-0.69,0.08],[-0.64,-0.95],[-0.6,-0.42],[-0.57,0.18],[-0.53,-0.7],[-0.49,-1.08],[-0.46,-0.22],[-0.43,0.05],
  [-0.39,-0.8],[-0.36,-0.45],[-0.33,-1.0],[-0.3,0.2],[-0.27,-0.6],[-0.24,-0.15],[-0.21,-0.9],[-0.18,0.32],[-0.15,-0.5],[-0.12,-1.15],
  [-0.09,-0.28],[-0.06,0.08],[-0.03,-0.72],[0.0,-1.05],[0.03,-0.5],[0.06,-0.15],[0.09,0.3],[0.12,-0.85],[0.15,-0.62],[0.18,-0.25],
  [0.21,-1.02],[0.25,0.12],[0.29,-0.58],[0.33,-0.85],[0.37,0.02],[0.41,-0.45],[0.45,-1.18],[0.5,-0.62],[0.55,-0.28],[0.6,-0.82],
  [-0.96,0.2],[-0.9,-0.5],[-0.84,-0.78],[-0.8,0.32],[-0.72,-1.3],[-0.6,-1.2],[-0.35,-1.3],[-0.1,-1.35],[0.15,-1.3],[0.42,-1.25],
  [-1.0,0.95],[-0.94,1.3],[-0.86,0.4],[-0.82,1.05],[-0.77,0.72],[-0.7,0.45],[-0.67,1.35],[-0.6,0.88],[-0.55,0.55],[-0.5,1.25],
  [-0.46,0.78],[-0.41,0.4],[-0.37,1.1],[-0.32,0.7],[-0.28,1.4],[-0.22,0.85],[-0.16,1.05],[-0.1,0.45],[-0.06,0.7],[0.0,1.0],
  [0.05,0.55],[0.1,1.3],[0.18,0.95],[0.28,0.4],[0.4,1.0],[0.5,0.5],[0.65,0.9],[-1.15,0.45],[-1.22,1.15],[-1.08,0.75],
  [-0.68,-0.3],[-0.48,-0.95],[-0.28,-0.3],[-0.08,-0.62],[0.12,-0.1],[0.32,-1.12],[0.52,-0.05],[0.7,-0.5],[0.8,-0.95],[0.95,-0.6],
  [-1.05,-0.4],[-1.15,-1.0],[-1.25,0.3],[1.0,0.3],[0.9,-1.25],[-0.9,-1.55],[-0.55,-1.65],[-0.05,-1.75],[0.4,-1.62],[0.7,-1.85],
  [-0.98,0.5],[-0.92,0.15],[-0.88,1.1],[-0.83,0.78],[-0.79,0.25],[-0.76,1.45],[-0.72,0.62],[-0.68,0.92],[-0.65,0.3],[-0.61,1.25],
  [-0.58,0.72],[-0.54,0.38],[-0.51,1.12],[-0.47,0.9],[-0.44,0.22],[-0.41,0.68],[-0.38,1.38],[-0.35,0.98],[-0.31,0.35],[-0.29,0.82],
  [-0.25,0.58],[-0.22,1.18],[-0.19,0.25],[-0.16,0.75],[-0.13,1.0],[-0.09,0.38],[-0.06,1.32],[-0.03,0.82],[0.02,0.45],[0.06,0.72],
  [-1.12,0.62],[-1.05,1.25],[-1.0,0.1],[-0.9,0.88],[-0.8,1.6],[-0.7,0.05],[-0.6,0.5],[-0.48,1.5],[-0.38,0.45],[-0.27,1.62],
  [-0.14,0.15],[0.1,0.62],[0.2,0.3],[0.15,1.05],[-0.5,0.2],[-0.62,0.85],[-0.84,0.35],[-0.32,1.2],[-0.2,0.65],[-0.08,0.95],
  [-0.97,-0.88],[-0.91,0.62],[-0.86,-0.18],[-0.81,1.18],[-0.77,-0.62],[-0.73,0.48],[-0.69,-1.1],[-0.65,0.78],[-0.62,-0.28],[-0.58,1.1],
  [-0.55,-0.88],[-0.52,0.1],[-0.49,-0.45],[-0.46,1.35],[-0.43,-1.22],[-0.4,0.58],[-0.37,-0.2],[-0.34,0.92],[-0.31,-0.75],[-0.28,0.42],
  [-0.25,-1.02],[-0.22,0.12],[-0.19,-0.4],[-0.16,1.15],[-0.13,-0.88],[-0.1,0.32],[-0.07,-0.55],[-0.04,0.72],[-0.01,-1.2],[0.02,0.05],
  [0.05,-0.38],[0.08,0.88],[0.11,-0.75],[0.14,0.15],[0.17,-1.05],[0.2,0.48],[0.23,-0.2],[0.26,-0.62],[0.3,0.25],[0.34,-0.95],
  [0.38,-0.32],[0.42,0.15],[0.46,-0.78],[0.5,-0.18],[0.55,-1.05],[0.6,0.02],[0.65,-0.45],[0.7,-0.82],[0.75,0.15],[0.8,-0.4],
  [-0.88,-0.4],[-0.68,0.2],[-0.48,-0.62],[-0.28,-1.18],[-0.08,-0.1],[0.12,-0.5],[0.32,0.05],[0.52,-0.42],[-0.6,-0.05],[-0.4,-0.85],
  [-0.2,-0.25],[0.0,-0.82],[0.2,-0.92],[0.4,-0.55],[-0.75,0.95],[-0.55,1.38],[-0.35,0.2],[-0.15,0.52],[0.05,1.15],[0.25,0.8],
  [-1.05,0.65],[-1.1,-0.2],[-0.95,1.05],[-1.2,0.95],[0.85,0.55],[0.9,-0.8],[0.95,0.05],[-0.3,-1.45],[0.1,-1.55],[0.5,-1.45]
];

// current value of each option
var optNames = ['option1', 'option2', 'option3'];
var colors = ['#F8766D', '#00BA38', '#619CFF'];
var bestPts = [[0, 1], [1, 0], [-0.2, 0.8]];

// density of value per option
var densX = [-5,-4.75,-4.5,-4.25,-4,-3.75,-3.5,-3.25,-3,-2.75,-2.5,-2.25,-2,-1.75,-1.5,-1.25,-1,-0.75,-0.5,-0.25,
  0,0.25,0.5,0.75,1,1.25,1.5,1.75,2,2.25,2.5,2.75,3,3.25,3.5,3.75,4,4.25,4.5,4.75,5];
var dens1 = [0,0,0,0,0,0.0001,0.0003,0.001,0.003,0.007,0.014,0.023,0.050,0.080,0.105,0.117,0.145,0.181,0.213,0.240,
  0.258,0.273,0.289,0.307,0.340,0.361,0.334,0.263,0.183,0.114,0.073,0.040,0.019,0.008,0.003,0.001,0.0005,0.0002,0,0,0];
var dens2 = [0,0,0.0001,0.0004,0.0014,0.005,0.011,0.017,0.022,0.032,0.045,0.063,0.094,0.134,0.176,0.213,0.244,0.280,0.323,0.344,
  0.356,0.349,0.311,0.261,0.216,0.186,0.133,0.080,0.052,0.034,0.019,0.0095,0.0055,0.0024,0.001,0.0004,0.0001,0,0,0,0];
var dens3 = [0,0,0,0,0.0002,0.001,0.004,0.010,0.015,0.021,0.032,0.055,0.087,0.127,0.174,0.221,0.275,0.318,0.349,0.366,
  0.365,0.359,0.322,0.262,0.209,0.152,0.115,0.087,0.053,0.033,0.021,0.010,0.003,0.0015,0.0005,0.0001,0,0,0,0,0];
var vlines = [[0.6, '#619CFF'], [1.0, '#00BA38']];

// axis breaks
var xMajorTop = [-4, -2, 0, 2, 4];
var xMinorTop = [-3, -1, 1, 3];
var yMajorTop = [-2, 0, 2, 4];
var yMinorTop = [-3, -1, 1, 3, 5];
var xMajorBot = [-5, -2.5, 0, 2.5, 5];
var xMinorBot = [-3.75, -1.25, 1.25, 3.75];
var yMajorBot = [0, 0.1, 0.2, 0.3];
var yMinorBot = [0.05, 0.15, 0.25, 0.35];

var FONT = 'Liberation Sans, Arial, sans-serif';
var chart = echarts.init(document.getElementById('main'));

function zip(xs, ys) {
  return xs.map(function (x, i) { return [x, ys[i]]; });
}

function majorAxis(dim, grid, min, max, ticks, fmt, name, gap) {
  return {
    type: 'value', gridIndex: grid, min: min, max: max,
    position: dim === 'x' ? 'bottom' : 'left',
    name: name, nameLocation: 'middle', nameGap: gap,
    nameTextStyle: { fontFamily: FONT, fontSize: 44, color: '#000' },
    axisLine: { show: false },
    axisTick: { show: true, length: 11, customValues: ticks, lineStyle: { color: '#B3B3B3', width: 2 } },
    axisLabel: { show: true, customValues: ticks, margin: 20, fontFamily: FONT, fontSize: 35, color: '#4D4D4D',
      formatter: fmt },
    splitLine: { show: true, lineStyle: { color: '#DEDEDE', width: 2 } }
  };
}

function minorAxis(dim, grid, min, max, ticks) {
  return {
    type: 'value', gridIndex: grid, min: min, max: max,
    position: dim === 'x' ? 'top' : 'right',
    axisLine: { show: false },
    axisTick: { show: false, customValues: ticks },
    axisLabel: { show: false, customValues: ticks },
    splitLine: { show: true, lineStyle: { color: '#E6E6E6', width: 1 } }
  };
}

function intFmt(v) { return String(v); }
function oneFmt(v) { return v.toFixed(1); }

var series = [];
// drawn in order red, green, blue
[pts1, pts2, pts3].forEach(function (pts, ci) {
  series.push({
    type: 'scatter', name: 'pts' + ci, xAxisIndex: 0, yAxisIndex: 0,
    data: pts, symbolSize: 18, silent: true, large: false,
    itemStyle: { color: colors[ci], borderColor: colors[ci], borderWidth: 2, opacity: 0.24 }
  });
});
bestPts.forEach(function (p, i) {
  series.push({
    type: 'scatter', name: optNames[i], xAxisIndex: 0, yAxisIndex: 0,
    data: [p], symbolSize: 50, z: 5,
    itemStyle: { color: colors[i], opacity: 1 }
  });
});
[dens1, dens2, dens3].forEach(function (d, i) {
  series.push({
    type: 'line', name: 'dens' + i, xAxisIndex: 2, yAxisIndex: 2,
    data: zip(densX, d), showSymbol: false, smooth: 0.35, silent: true,
    lineStyle: { color: colors[i], width: 4 }
  });
});
series.push({
  type: 'line', name: 'vlines', xAxisIndex: 2, yAxisIndex: 2, data: [], silent: true,
  markLine: {
    symbol: 'none', silent: true, animation: false, label: { show: false },
    data: vlines.map(function (v) {
      return { xAxis: v[0], lineStyle: { color: v[1], width: 3.5, type: 'solid' } };
    })
  }
});

chart.setOption({
  animation: false,
  backgroundColor: '#fff',
  title: {
    text: 'Current best: 1 evi: 0.243', left: 151, top: 17, padding: 0,
    textStyle: { fontFamily: FONT, fontSize: 55, fontWeight: 'normal', color: '#000' }
  },
  graphic: [{
    type: 'text', left: 2743, top: 388,
    style: { text: 'option1', font: '44px ' + FONT, fill: '#000' }
  }],
  legend: {
    data: optNames, orient: 'vertical', left: 2747, top: 460,
    icon: 'circle', itemWidth: 110, itemHeight: 50, itemGap: 22,
    textStyle: { fontFamily: FONT, fontSize: 35, color: '#000' },
    selectedMode: false
  },
  grid: [
    { left: 150, top: 98, width: 2524, height: 851, show: true, borderColor: '#B3B3B3', borderWidth: 3,
      backgroundColor: 'transparent' },
    { left: 150, top: 1111, width: 2524, height: 850, show: true, borderColor: '#B3B3B3', borderWidth: 3,
      backgroundColor: 'transparent' }
  ],
  xAxis: [
    majorAxis('x', 0, -4.4, 4.4, xMajorTop, intFmt, 'feature 1', 68),
    minorAxis('x', 0, -4.4, 4.4, xMinorTop),
    majorAxis('x', 1, -5.5, 5.5, xMajorBot, oneFmt, 'value', 68),
    minorAxis('x', 1, -5.5, 5.5, xMinorBot)
  ],
  yAxis: [
    majorAxis('y', 0, -3.385, 5.385, yMajorTop, intFmt, 'feature 2', 86),
    minorAxis('y', 0, -3.385, 5.385, yMinorTop),
    majorAxis('y', 1, -0.0184, 0.3864, yMajorBot, oneFmt, 'density', 86),
    minorAxis('y', 1, -0.0184, 0.3864, yMinorBot)
  ],
  series: series
});
</script>
</body>
</html>
